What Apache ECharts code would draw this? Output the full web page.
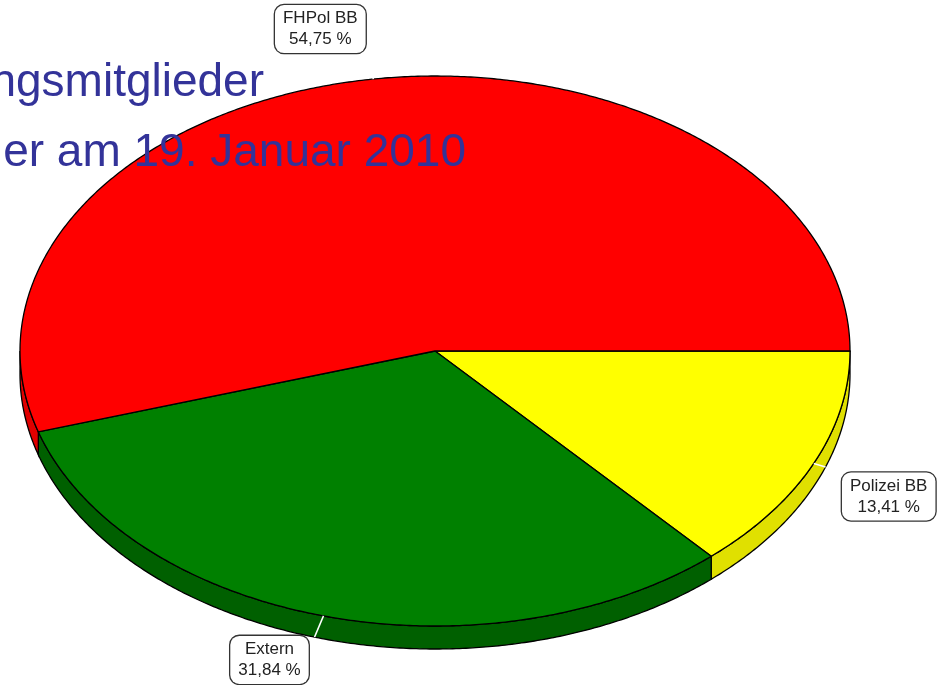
<!DOCTYPE html>
<html>
<head>
<meta charset="utf-8">
<script src="https://cdn.jsdelivr.net/npm/echarts@6/dist/echarts.min.js"></script>
<style>
  html, body { margin: 0; padding: 0; background: #fff; }
  #main { width: 946px; height: 685px; }
</style>
</head>
<body>
<div id="main"></div>
<script>
// data
const names = ['Polizei BB', 'Extern', 'FHPol BB'];
const shares = [13.41, 31.84, 54.75];
const topColors = ['#ffff00', '#008000', '#ff0000'];
const sideColors = ['#e0e000', '#006000', '#e00000'];
const titleLines = ['ngsmitglieder', 'er am 19. Januar 2010'];

// layout of the tilted pie
const cx = 435, cy = 351, rx = 415, ry = 275, depth = 23;
const labelOffsets = [[75, 33], [-54, 44], [-53, -50]];

const total = shares.reduce((a, b) => a + b, 0);
const starts = [];
let acc = 0;
shares.forEach(v => { starts.push(acc); acc += v / total * Math.PI * 2; });

function pt(a, dy) {
  return [cx + rx * Math.cos(a), cy + ry * Math.sin(a) + (dy || 0)];
}
function arc(a0, a1, dy) {
  const pts = [];
  const n = Math.max(2, Math.ceil((a1 - a0) / 0.008));
  for (let i = 0; i <= n; i++) pts.push(pt(a0 + (a1 - a0) * i / n, dy));
  return pts;
}
function fmt(v) {
  return v.toFixed(2).replace('.', ',') + ' %';
}

const myChart = echarts.init(document.getElementById('main'));

const option = {
  animation: false,
  backgroundColor: '#fff',
  graphic: [
    {
      type: 'text', right: 946 - 264, top: 60, z: 100,
      style: { text: titleLines[0], font: '46px "Liberation Sans", Arial, sans-serif', fill: '#333399' }
    },
    {
      type: 'text', right: 946 - 466, top: 130, z: 100,
      style: { text: titleLines[1], font: '46px "Liberation Sans", Arial, sans-serif', fill: '#333399' }
    }
  ],
  series: [
    {
      // side walls (front half only)
      type: 'custom',
      coordinateSystem: 'none',
      silent: true,
      z: 1,
      data: shares,
      renderItem: function (params, api) {
        const i = params.dataIndex;
        const a0 = starts[i];
        const a1 = a0 + api.value(0) / total * Math.PI * 2;
        const s = Math.max(a0, 0), e = Math.min(a1, Math.PI);
        if (e <= s) return null;
        const top = arc(s, e, 0);
        const bottom = arc(s, e, depth).reverse();
        return {
          type: 'polygon',
          shape: { points: top.concat(bottom) },
          style: { fill: sideColors[i], stroke: '#000', lineWidth: 1.3 }
        };
      }
    },
    {
      // top faces, leader ticks and labels
      type: 'custom',
      coordinateSystem: 'none',
      silent: true,
      z: 2,
      data: shares,
      renderItem: function (params, api) {
        const i = params.dataIndex;
        const v = api.value(0);
        const a0 = starts[i];
        const a1 = a0 + v / total * Math.PI * 2;
        const pts = [[cx, cy]].concat(arc(a0, a1, 0));
        const am = (a0 + a1) / 2;
        const m = pt(am, 0);
        let ux = m[0] - cx, uy = m[1] - cy;
        const ul = Math.sqrt(ux * ux + uy * uy);
        ux /= ul; uy /= ul;
        // run the tick out to the lower rim
        const dx0 = m[0] - cx, dy0 = m[1] - cy - depth;
        const A = ux * ux / (rx * rx) + uy * uy / (ry * ry);
        const B = 2 * (dx0 * ux / (rx * rx) + dy0 * uy / (ry * ry));
        const C = dx0 * dx0 / (rx * rx) + dy0 * dy0 / (ry * ry) - 1;
        let t = (-B + Math.sqrt(Math.max(0, B * B - 4 * A * C))) / (2 * A);
        if (!(t > 4)) t = 4;
        return {
          type: 'group',
          children: [
            {
              type: 'polygon',
              shape: { points: pts },
              style: { fill: topColors[i], stroke: '#000', lineWidth: 1.3 }
            },
            {
              type: 'line',
              z2: 5,
              shape: { x1: m[0], y1: m[1], x2: m[0] + ux * t, y2: m[1] + uy * t },
              style: { stroke: '#fff', lineWidth: 1.5 }
            },
            {
              type: 'text',
              z2: 10,
              x: m[0] + labelOffsets[i][0],
              y: m[1] + labelOffsets[i][1],
              style: {
                text: names[i] + '\n' + fmt(v),
                font: '17px "Liberation Sans", Arial, sans-serif',
                fill: '#222',
                align: 'center',
                verticalAlign: 'middle',
                lineHeight: 21,
                backgroundColor: '#fff',
                borderColor: '#333',
                borderWidth: 1.3,
                borderRadius: 9,
                padding: [3, 8, 3, 8]
              }
            }
          ]
        };
      }
    }
  ]
};

myChart.setOption(option);
</script>
</body>
</html>
